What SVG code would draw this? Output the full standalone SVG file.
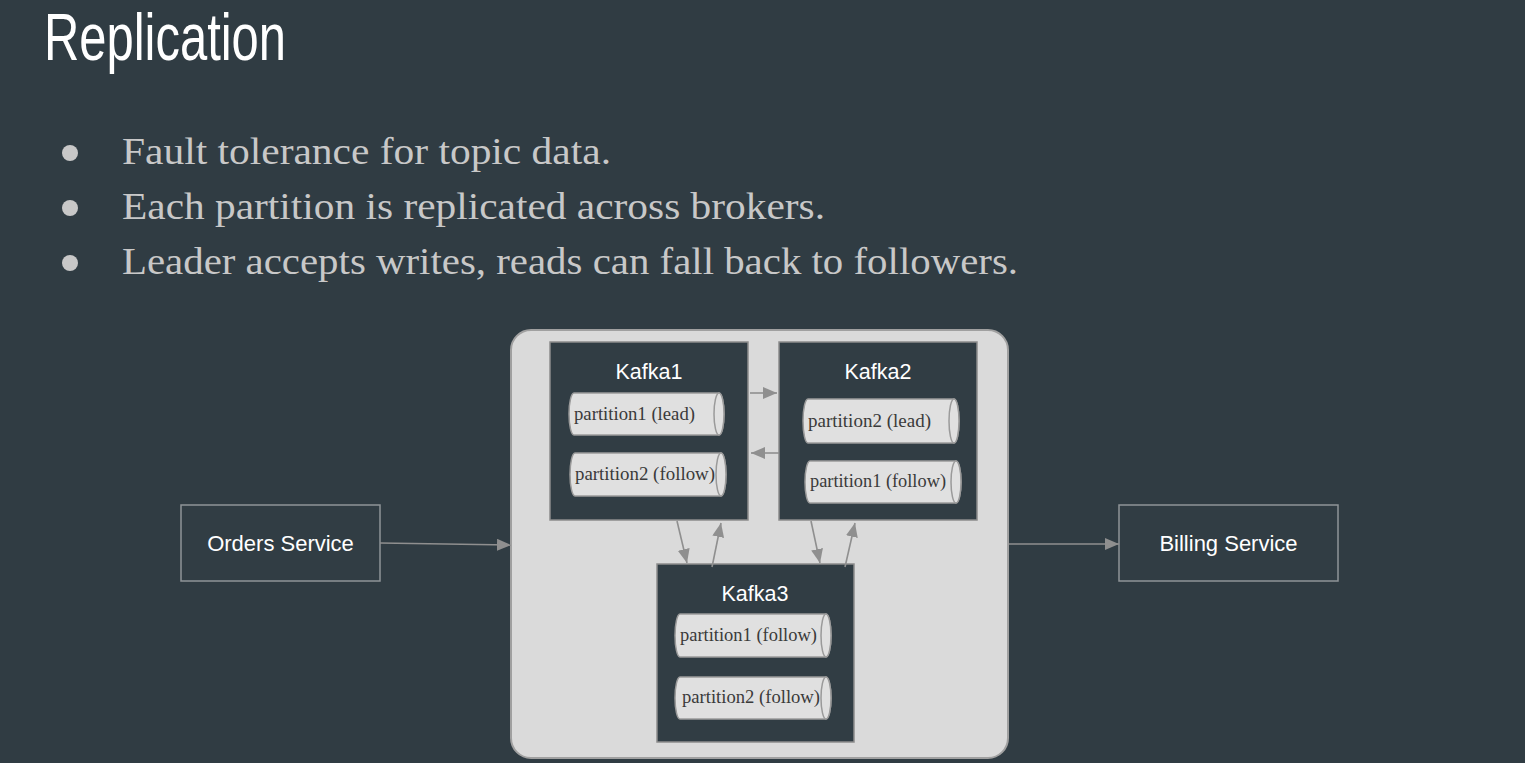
<svg xmlns="http://www.w3.org/2000/svg" width="1525" height="763" viewBox="0 0 1525 763">
<defs>
<style>
.bg{fill:#303c43}
.title{font-family:"Liberation Sans",Arial,sans-serif;font-size:66px;fill:#ffffff}
.bullet{font-family:"Liberation Serif","Times New Roman",serif;font-size:38px;fill:#c8c8c8}
.dot{fill:#c8c8c8}
.outer{fill:#dadada;stroke:#a0a0a0;stroke-width:2}
.broker{fill:#313d44;stroke:#8c8c8c;stroke-width:1.5}
.svc{fill:#313d44;stroke:#8e9498;stroke-width:1.5}
.bname{font-family:"Liberation Sans",Arial,sans-serif;font-size:21.5px;fill:#ffffff;text-anchor:middle}
.sname{font-family:"Liberation Sans",Arial,sans-serif;font-size:22px;fill:#ffffff;text-anchor:middle}
.cyl{fill:#e0e0e0;stroke:#9a9a9a;stroke-width:1.5}
.ptxt{font-family:"Liberation Serif","Times New Roman",serif;font-size:18px;fill:#3a3a3a}
.conn{stroke:#8f8f8f;stroke-width:1.6;fill:none;marker-end:url(#ah)}
</style>
<marker id="ah" markerUnits="userSpaceOnUse" markerWidth="16" markerHeight="12" refX="14" refY="6" orient="auto">
<path d="M0,0 L14,6 L0,12 Z" fill="#8f8f8f"/>
</marker>
</defs>
<rect class="bg" x="0" y="0" width="1525" height="763"/>

<g id="title">
<text class="title" x="44" y="60" textLength="242" lengthAdjust="spacingAndGlyphs">Replication</text>
</g>
<g id="bullets">
<circle class="dot" cx="70" cy="153" r="8"/>
<circle class="dot" cx="70" cy="208" r="8"/>
<circle class="dot" cx="70" cy="263" r="8"/>
<text class="bullet" x="122" y="164" textLength="489" lengthAdjust="spacingAndGlyphs">Fault tolerance for topic data.</text>
<text class="bullet" x="122" y="219" textLength="703" lengthAdjust="spacingAndGlyphs">Each partition is replicated across brokers.</text>
<text class="bullet" x="122" y="274" textLength="896" lengthAdjust="spacingAndGlyphs">Leader accepts writes, reads can fall back to followers.</text>
</g>

<g id="cluster">
<rect class="outer" x="511" y="330" width="497" height="428" rx="20" ry="20"/>
</g>

<g id="kafka1">
<rect class="broker" x="550" y="342" width="198" height="178"/>
<text class="bname" x="649" y="379">Kafka1</text>
<path class="cyl" d="M574,393 H719 A5,21 0 0 1 719,435 H574 A5,21 0 0 1 574,393 Z"/>
<ellipse class="cyl" cx="719" cy="414" rx="5" ry="21"/>
<text class="ptxt" x="574" y="420" textLength="121" lengthAdjust="spacingAndGlyphs">partition1 (lead)</text>
<path class="cyl" d="M575,453 H721 A5,21.5 0 0 1 721,496 H575 A5,21.5 0 0 1 575,453 Z"/>
<ellipse class="cyl" cx="721" cy="474.5" rx="5" ry="21.5"/>
<text class="ptxt" x="575" y="480" textLength="140" lengthAdjust="spacingAndGlyphs">partition2 (follow)</text>
</g>

<g id="kafka2">
<rect class="broker" x="779" y="342" width="198" height="178"/>
<text class="bname" x="878" y="379">Kafka2</text>
<path class="cyl" d="M808,399 H954 A5,22 0 0 1 954,443 H808 A5,22 0 0 1 808,399 Z"/>
<ellipse class="cyl" cx="954" cy="421" rx="5" ry="22"/>
<text class="ptxt" x="808" y="427" textLength="123" lengthAdjust="spacingAndGlyphs">partition2 (lead)</text>
<path class="cyl" d="M810,461 H956 A5,21 0 0 1 956,503 H810 A5,21 0 0 1 810,461 Z"/>
<ellipse class="cyl" cx="956" cy="482" rx="5" ry="21"/>
<text class="ptxt" x="810" y="487" textLength="136" lengthAdjust="spacingAndGlyphs">partition1 (follow)</text>
</g>

<g id="kafka3">
<rect class="broker" x="657" y="564" width="197" height="178"/>
<text class="bname" x="755" y="601">Kafka3</text>
<path class="cyl" d="M680,614 H826 A5,21.5 0 0 1 826,657 H680 A5,21.5 0 0 1 680,614 Z"/>
<ellipse class="cyl" cx="826" cy="635.5" rx="5" ry="21.5"/>
<text class="ptxt" x="680" y="641" textLength="137" lengthAdjust="spacingAndGlyphs">partition1 (follow)</text>
<path class="cyl" d="M680,677 H826 A5,21 0 0 1 826,719 H680 A5,21 0 0 1 680,677 Z"/>
<ellipse class="cyl" cx="826" cy="698" rx="5" ry="21"/>
<text class="ptxt" x="682" y="703" textLength="138" lengthAdjust="spacingAndGlyphs">partition2 (follow)</text>
</g>

<g id="orders">
<rect class="svc" x="181" y="505" width="199" height="76"/>
<text class="sname" x="280.5" y="551">Orders Service</text>
</g>

<g id="billing">
<rect class="svc" x="1119" y="505" width="219" height="76"/>
<text class="sname" x="1228.5" y="551">Billing Service</text>
</g>

<g id="connectors">
<line class="conn" x1="750" y1="393" x2="777" y2="393"/>
<line class="conn" x1="779" y1="453" x2="751" y2="453"/>
<line class="conn" x1="677" y1="521" x2="687" y2="563"/>
<line class="conn" x1="712" y1="567" x2="721" y2="523"/>
<line class="conn" x1="811" y1="521" x2="820" y2="563"/>
<line class="conn" x1="845" y1="567" x2="855" y2="523"/>
<line class="conn" x1="380" y1="543" x2="511" y2="545"/>
<line class="conn" x1="1009" y1="544" x2="1119" y2="544"/>
</g>
</svg>
